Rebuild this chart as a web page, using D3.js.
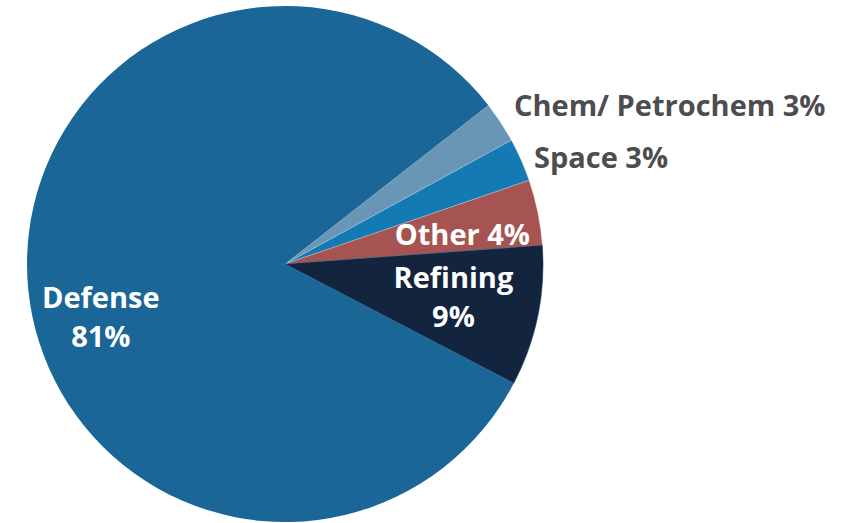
<!DOCTYPE html>
<html>
<head>
<meta charset="utf-8">
<title>Share by sector</title>
<script src="https://d3js.org/d3.v7.min.js"></script>
<style>
	body { margin: 0; background: #fff; }
	svg text { font-family: "Open Sans", sans-serif; font-weight: 700; }
</style>
</head>
<body>
<div id="chart"></div>
<script>
	// slice data, clockwise from the top-right
	var categories = ["Chem/ Petrochem", "Space", "Other", "Refining", "Defense"];
	var shares = [2.6, 2.7, 4.1, 8.8, 81.8];
	var labelLines = [["Chem/ Petrochem 3%"], ["Space 3%"], ["Other 4%"], ["Refining", "9%"], ["Defense", "81%"]];

	var colors = ["#6a96b6", "#147ab4", "#a65452", "#13243f", "#1a6797"];
	// label placement: radius from centre, vertical nudge, anchor, colour
	var labelR = [274, 272, 181, 172, 185];
	var labelDy = [3, 14, 17, -11, 27];
	var labelAnchor = ["start", "start", "middle", "middle", "middle"];
	var labelColor = ["#4d4d4f", "#4d4d4f", "#fff", "#fff", "#fff"];

	var width = 859, height = 523;
	var cx = 285, cy = 264, radius = 258;
	var start = 52 * Math.PI / 180;

	var svg = d3.select("#chart").append("svg")
		.attr("width", width)
		.attr("height", height);

	var g = svg.append("g").attr("transform", "translate(" + cx + "," + cy + ")");

	var pie = d3.pie().sort(null).value(function(d){ return d; })
		.startAngle(start).endAngle(start + 2 * Math.PI);
	var arcs = pie(shares);

	var arc = d3.arc().innerRadius(0).outerRadius(radius);

	g.selectAll("path.slice")
		.data(arcs)
		.enter()
		.append("path")
		.attr("class", "slice")
		.attr("d", arc)
		.attr("fill", function(d, i){ return colors[i]; })
		.attr("stroke", function(d, i){ return i == 3 ? "#22456b" : (i == 4 ? "none" : "#fff"); })
		.attr("stroke-width", function(d, i){ return i == 3 ? 1 : 0.4; })
		.attr("stroke-opacity", 0.6);

	var labels = g.selectAll("text.lbl")
		.data(arcs)
		.enter()
		.append("text")
		.attr("class", "lbl")
		.attr("font-size", 29)
		.attr("fill", function(d, i){ return labelColor[i]; })
		.attr("text-anchor", function(d, i){ return labelAnchor[i]; })
		.attr("transform", function(d, i){
			var a = d3.arc().innerRadius(labelR[i]).outerRadius(labelR[i]);
			var c = a.centroid(d);
			return "translate(" + c[0] + "," + (c[1] + labelDy[i]) + ")";
		});

	labels.each(function(d, i){
		var t = d3.select(this);
		labelLines[i].forEach(function(line, k){
			t.append("tspan").attr("x", 0).attr("y", k * 39).text(line);
		});
	});
</script>
</body>
</html>
